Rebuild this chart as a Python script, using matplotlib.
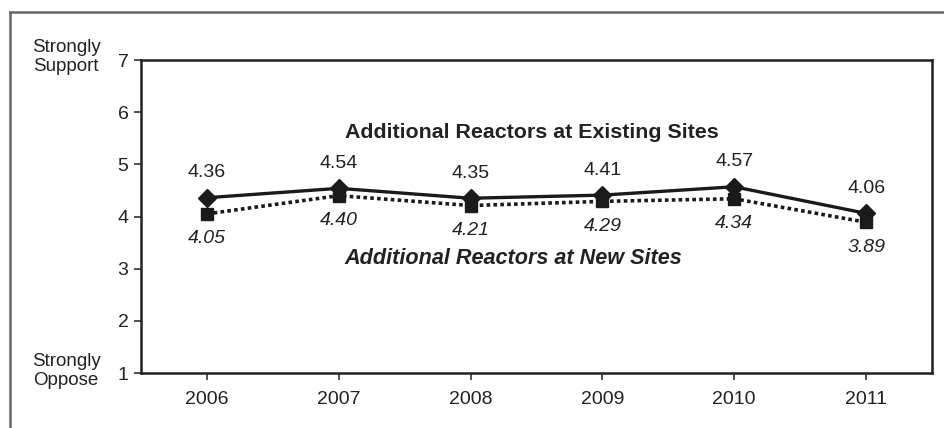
import matplotlib
matplotlib.use("Agg")
import matplotlib.pyplot as plt
from matplotlib.lines import Line2D

plt.rcParams['font.family'] = ['Liberation Sans', 'DejaVu Sans']

years = ["2006", "2007", "2008", "2009", "2010", "2011"]
existing_sites = [4.36, 4.54, 4.35, 4.41, 4.57, 4.06]
new_sites = [4.05, 4.40, 4.21, 4.29, 4.34, 3.89]
y_ticks = [1, 2, 3, 4, 5, 6, 7]
label_existing = "Additional Reactors at Existing Sites"
label_new = "Additional Reactors at New Sites"

W, H = 944, 428
fig = plt.figure(figsize=(W / 100, H / 100), dpi=100)
ax = fig.add_axes([141 / W, 1 - 373 / H, (932 - 141) / W, (373 - 60) / H])

x = list(range(len(years)))
txt = '#222222'
ln = '#1a1a1a'

ax.plot(x, new_sites, color=ln, lw=2.6, linestyle=(0, (1, 0.9)),
        marker='s', markersize=8.5, markerfacecolor=ln, markeredgecolor=ln, zorder=3)
ax.plot(x, existing_sites, color=ln, lw=2.4, linestyle='-',
        marker='D', markersize=9, markerfacecolor=ln, markeredgecolor=ln, zorder=4)

for xi, v in zip(x, existing_sites):
    ax.annotate(f"{v:.2f}", (xi, v), xytext=(0, 18), textcoords='offset points',
                ha='center', va='center', fontsize=14, color=txt)
for xi, v in zip(x, new_sites):
    ax.annotate(f"{v:.2f}", (xi, v), xytext=(0, -18), textcoords='offset points',
                ha='center', va='center', fontsize=14, color=txt, style='italic')

ax.set_xlim(-0.5, 5.5)
ax.set_ylim(1, 7)
ax.set_xticks(x)
ax.set_xticklabels(years, fontsize=14, color=txt)
ax.set_yticks(y_ticks)
ax.set_yticklabels([str(t) for t in y_ticks], fontsize=14, color=txt)
ax.tick_params(axis='both', direction='out', length=5, width=1.2, color='#333333', pad=4)
ax.tick_params(axis='x', pad=8)
for s in ax.spines.values():
    s.set_linewidth(1.8)
    s.set_color('#222222')

ax.text(532 / W, 1 - 133 / H, label_existing, transform=fig.transFigure,
        ha='center', va='center', fontsize=15.4, fontweight='bold', color=txt)
ax.text(513 / W, 1 - 258 / H, label_new, transform=fig.transFigure,
        ha='center', va='center', fontsize=15.6, fontweight='bold', style='italic', color=txt)

fig.text(66 / W, 1 - 57 / H, "Strongly\nSupport", ha='center', va='center',
         fontsize=13.5, color=txt, linespacing=1.2)
fig.text(66 / W, 1 - 371 / H, "Strongly\nOppose", ha='center', va='center',
         fontsize=13.5, color=txt, linespacing=1.2)

# outer frame (left and top edges)
fig.add_artist(Line2D([10 / W, 10 / W], [1 - 12 / H, 0], transform=fig.transFigure,
                      color='#666666', lw=1.8))
fig.add_artist(Line2D([10 / W, 1], [1 - 12 / H, 1 - 12 / H], transform=fig.transFigure,
                      color='#666666', lw=1.8))

fig.savefig("out.png", dpi=100)
